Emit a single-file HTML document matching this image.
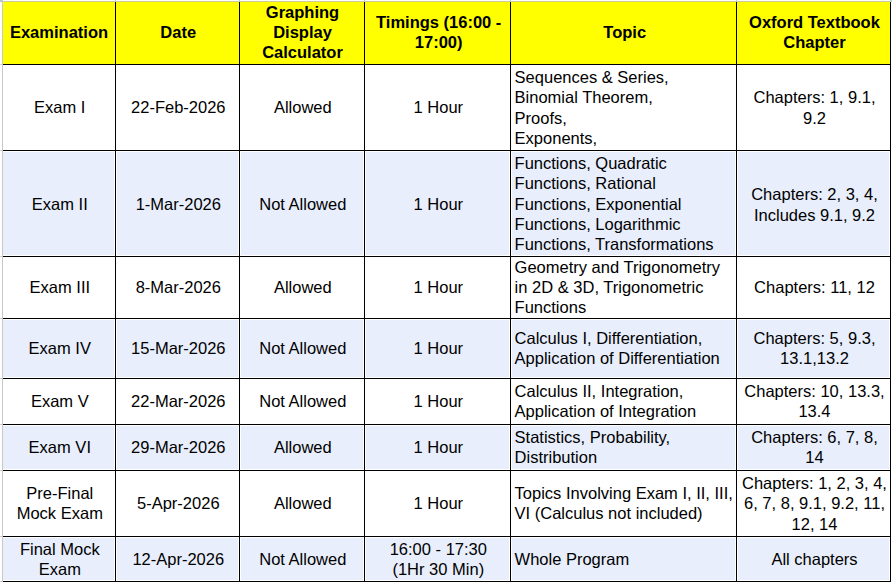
<!DOCTYPE html>
<html><head><meta charset="utf-8"><style>
*{margin:0;padding:0;box-sizing:border-box}
html,body{width:892px;height:582px;overflow:hidden;background:#fff}
body{position:relative;font-family:"Liberation Sans",sans-serif;font-size:16.5px;color:#000}
.r{position:absolute}
.t{position:absolute;height:20px;line-height:20px;white-space:nowrap;text-align:center}
.tl{text-align:left}
.b{font-weight:bold}
.hl{position:absolute;height:1px;background:#000}
.vl{position:absolute;width:1px;background:#000}
</style></head><body>

<div class="r" style="left:3px;top:2px;width:887px;height:62px;background:#ffff00"></div>
<div class="r" style="left:3px;top:152px;width:111px;height:103px;background:#e8eefc"></div>
<div class="r" style="left:117px;top:152px;width:121px;height:103px;background:#e8eefc"></div>
<div class="r" style="left:241px;top:152px;width:122px;height:103px;background:#e8eefc"></div>
<div class="r" style="left:366px;top:152px;width:143px;height:103px;background:#e8eefc"></div>
<div class="r" style="left:512px;top:152px;width:223px;height:103px;background:#e8eefc"></div>
<div class="r" style="left:738px;top:152px;width:151px;height:103px;background:#e8eefc"></div>
<div class="r" style="left:3px;top:320px;width:111px;height:57px;background:#e8eefc"></div>
<div class="r" style="left:117px;top:320px;width:121px;height:57px;background:#e8eefc"></div>
<div class="r" style="left:241px;top:320px;width:122px;height:57px;background:#e8eefc"></div>
<div class="r" style="left:366px;top:320px;width:143px;height:57px;background:#e8eefc"></div>
<div class="r" style="left:512px;top:320px;width:223px;height:57px;background:#e8eefc"></div>
<div class="r" style="left:738px;top:320px;width:151px;height:57px;background:#e8eefc"></div>
<div class="r" style="left:3px;top:426px;width:111px;height:43px;background:#e8eefc"></div>
<div class="r" style="left:117px;top:426px;width:121px;height:43px;background:#e8eefc"></div>
<div class="r" style="left:241px;top:426px;width:122px;height:43px;background:#e8eefc"></div>
<div class="r" style="left:366px;top:426px;width:143px;height:43px;background:#e8eefc"></div>
<div class="r" style="left:512px;top:426px;width:223px;height:43px;background:#e8eefc"></div>
<div class="r" style="left:738px;top:426px;width:151px;height:43px;background:#e8eefc"></div>
<div class="r" style="left:3px;top:538px;width:111px;height:42px;background:#e8eefc"></div>
<div class="r" style="left:117px;top:538px;width:121px;height:42px;background:#e8eefc"></div>
<div class="r" style="left:241px;top:538px;width:122px;height:42px;background:#e8eefc"></div>
<div class="r" style="left:366px;top:538px;width:143px;height:42px;background:#e8eefc"></div>
<div class="r" style="left:512px;top:538px;width:223px;height:42px;background:#e8eefc"></div>
<div class="r" style="left:738px;top:538px;width:151px;height:42px;background:#e8eefc"></div>
<div class="hl" style="left:0;top:1px;width:890px;background:#cbcb9c"></div>
<div class="r" style="left:0;top:0;width:3px;height:2px;background:#b8c6c8"></div>
<div class="r" style="left:890px;top:0;width:2px;height:2px;background:#c4d2cc"></div>
<div class="r" style="left:115px;top:0;width:1px;height:1px;background:#b8c6cc"></div>
<div class="r" style="left:239px;top:0;width:1px;height:1px;background:#b8c6cc"></div>
<div class="r" style="left:364px;top:0;width:1px;height:1px;background:#b8c6cc"></div>
<div class="r" style="left:510px;top:0;width:1px;height:1px;background:#b8c6cc"></div>
<div class="r" style="left:736px;top:0;width:1px;height:1px;background:#b8c6cc"></div>
<div class="r" style="left:0;top:64px;width:2px;height:1px;background:#d0d0d0"></div>
<div class="r" style="left:0;top:150px;width:2px;height:1px;background:#d0d0d0"></div>
<div class="r" style="left:0;top:256px;width:2px;height:1px;background:#d0d0d0"></div>
<div class="r" style="left:0;top:318px;width:2px;height:1px;background:#d0d0d0"></div>
<div class="r" style="left:0;top:378px;width:2px;height:1px;background:#d0d0d0"></div>
<div class="r" style="left:0;top:424px;width:2px;height:1px;background:#d0d0d0"></div>
<div class="r" style="left:0;top:470px;width:2px;height:1px;background:#d0d0d0"></div>
<div class="r" style="left:0;top:536px;width:2px;height:1px;background:#d0d0d0"></div>
<div class="r" style="left:0;top:581px;width:2px;height:1px;background:#d0d0d0"></div>
<div class="hl" style="left:3px;top:64px;width:888px"></div>
<div class="hl" style="left:3px;top:150px;width:888px"></div>
<div class="hl" style="left:3px;top:256px;width:888px"></div>
<div class="hl" style="left:3px;top:318px;width:888px"></div>
<div class="hl" style="left:3px;top:378px;width:888px"></div>
<div class="hl" style="left:3px;top:424px;width:888px"></div>
<div class="hl" style="left:3px;top:470px;width:888px"></div>
<div class="hl" style="left:3px;top:536px;width:888px"></div>
<div class="hl" style="left:3px;top:581px;width:888px"></div>
<div class="vl" style="left:2px;top:0;height:582px;background:#c8c8c8"></div>
<div class="vl" style="left:115px;top:2px;height:580px"></div>
<div class="vl" style="left:239px;top:2px;height:580px"></div>
<div class="vl" style="left:364px;top:2px;height:580px"></div>
<div class="vl" style="left:510px;top:2px;height:580px"></div>
<div class="vl" style="left:736px;top:2px;height:580px"></div>
<div class="vl" style="left:890px;top:2px;height:580px"></div>
<div class="t b" style="left:3px;top:22px;width:112px">Examination</div>
<div class="t b" style="left:116.7px;top:22px;width:123px">Date</div>
<div class="t b" style="left:240.5px;top:2px;width:124px">Graphing</div>
<div class="t b" style="left:240.5px;top:22px;width:124px">Display</div>
<div class="t b" style="left:240.5px;top:42px;width:124px">Calculator</div>
<div class="t b" style="left:366.2px;top:12px;width:145px">Timings (16:00 -</div>
<div class="t b" style="left:366.2px;top:32px;width:145px">17:00)</div>
<div class="t b" style="left:512.2px;top:22px;width:225px">Topic</div>
<div class="t b" style="left:738.0px;top:12px;width:153px">Oxford Textbook</div>
<div class="t b" style="left:738.0px;top:32px;width:153px">Chapter</div>
<div class="t" style="left:3.8px;top:97px;width:112px">Exam I</div>
<div class="t" style="left:116.8px;top:97px;width:123px">22-Feb-2026</div>
<div class="t" style="left:240.8px;top:97px;width:124px">Allowed</div>
<div class="t" style="left:365.8px;top:97px;width:145px">1 Hour</div>
<div class="t tl" style="left:514.6px;top:67px">Sequences &amp; Series,</div>
<div class="t tl" style="left:514.6px;top:87px">Binomial Theorem,</div>
<div class="t tl" style="left:514.6px;top:108px">Proofs,</div>
<div class="t tl" style="left:514.6px;top:128px">Exponents,</div>
<div class="t" style="left:738.0px;top:87px;width:153px">Chapters: 1, 9.1,</div>
<div class="t" style="left:738.0px;top:108px;width:153px">9.2</div>
<div class="t" style="left:3.8px;top:194px;width:112px">Exam II</div>
<div class="t" style="left:116.8px;top:194px;width:123px">1-Mar-2026</div>
<div class="t" style="left:240.8px;top:194px;width:124px">Not Allowed</div>
<div class="t" style="left:365.8px;top:194px;width:145px">1 Hour</div>
<div class="t tl" style="left:514.6px;top:153px">Functions, Quadratic</div>
<div class="t tl" style="left:514.6px;top:173px">Functions, Rational</div>
<div class="t tl" style="left:514.6px;top:194px">Functions, Exponential</div>
<div class="t tl" style="left:514.6px;top:214px">Functions, Logarithmic</div>
<div class="t tl" style="left:514.6px;top:234px">Functions, Transformations</div>
<div class="t" style="left:738.0px;top:184px;width:153px">Chapters: 2, 3, 4,</div>
<div class="t" style="left:738.0px;top:205px;width:153px">Includes 9.1, 9.2</div>
<div class="t" style="left:3.8px;top:277px;width:112px">Exam III</div>
<div class="t" style="left:116.8px;top:277px;width:123px">8-Mar-2026</div>
<div class="t" style="left:240.8px;top:277px;width:124px">Allowed</div>
<div class="t" style="left:365.8px;top:277px;width:145px">1 Hour</div>
<div class="t tl" style="left:514.6px;top:257px">Geometry and Trigonometry</div>
<div class="t tl" style="left:514.6px;top:277px">in 2D &amp; 3D, Trigonometric</div>
<div class="t tl" style="left:514.6px;top:297px">Functions</div>
<div class="t" style="left:738.0px;top:277px;width:153px">Chapters: 11, 12</div>
<div class="t" style="left:3.8px;top:338px;width:112px">Exam IV</div>
<div class="t" style="left:116.8px;top:338px;width:123px">15-Mar-2026</div>
<div class="t" style="left:240.8px;top:338px;width:124px">Not Allowed</div>
<div class="t" style="left:365.8px;top:338px;width:145px">1 Hour</div>
<div class="t tl" style="left:514.6px;top:328px">Calculus I, Differentiation,</div>
<div class="t tl" style="left:514.6px;top:348px">Application of Differentiation</div>
<div class="t" style="left:738.0px;top:328px;width:153px">Chapters: 5, 9.3,</div>
<div class="t" style="left:738.0px;top:348px;width:153px">13.1,13.2</div>
<div class="t" style="left:3.8px;top:391px;width:112px">Exam V</div>
<div class="t" style="left:116.8px;top:391px;width:123px">22-Mar-2026</div>
<div class="t" style="left:240.8px;top:391px;width:124px">Not Allowed</div>
<div class="t" style="left:365.8px;top:391px;width:145px">1 Hour</div>
<div class="t tl" style="left:514.6px;top:381px">Calculus II, Integration,</div>
<div class="t tl" style="left:514.6px;top:401px">Application of Integration</div>
<div class="t" style="left:738.0px;top:381px;width:153px">Chapters: 10, 13.3,</div>
<div class="t" style="left:738.0px;top:401px;width:153px">13.4</div>
<div class="t" style="left:3.8px;top:437px;width:112px">Exam VI</div>
<div class="t" style="left:116.8px;top:437px;width:123px">29-Mar-2026</div>
<div class="t" style="left:240.8px;top:437px;width:124px">Allowed</div>
<div class="t" style="left:365.8px;top:437px;width:145px">1 Hour</div>
<div class="t tl" style="left:514.6px;top:427px">Statistics, Probability,</div>
<div class="t tl" style="left:514.6px;top:447px">Distribution</div>
<div class="t" style="left:738.0px;top:427px;width:153px">Chapters: 6, 7, 8,</div>
<div class="t" style="left:738.0px;top:447px;width:153px">14</div>
<div class="t" style="left:3.8px;top:483px;width:112px">Pre-Final</div>
<div class="t" style="left:3.8px;top:503px;width:112px">Mock Exam</div>
<div class="t" style="left:116.8px;top:493px;width:123px">5-Apr-2026</div>
<div class="t" style="left:240.8px;top:493px;width:124px">Allowed</div>
<div class="t" style="left:365.8px;top:493px;width:145px">1 Hour</div>
<div class="t tl" style="left:514.6px;top:483px">Topics Involving Exam I, II, III,</div>
<div class="t tl" style="left:514.6px;top:503px">VI (Calculus not included)</div>
<div class="t" style="left:738.0px;top:473px;width:153px">Chapters: 1, 2, 3, 4,</div>
<div class="t" style="left:738.0px;top:493px;width:153px">6, 7, 8, 9.1, 9.2, 11,</div>
<div class="t" style="left:738.0px;top:514px;width:153px">12, 14</div>
<div class="t" style="left:3.8px;top:539px;width:112px">Final Mock</div>
<div class="t" style="left:3.8px;top:559px;width:112px">Exam</div>
<div class="t" style="left:116.8px;top:549px;width:123px">12-Apr-2026</div>
<div class="t" style="left:240.8px;top:549px;width:124px">Not Allowed</div>
<div class="t" style="left:365.8px;top:539px;width:145px">16:00 - 17:30</div>
<div class="t" style="left:365.8px;top:559px;width:145px">(1Hr 30 Min)</div>
<div class="t tl" style="left:514.6px;top:549px">Whole Program</div>
<div class="t" style="left:738.0px;top:549px;width:153px">All chapters</div>
</body></html>
